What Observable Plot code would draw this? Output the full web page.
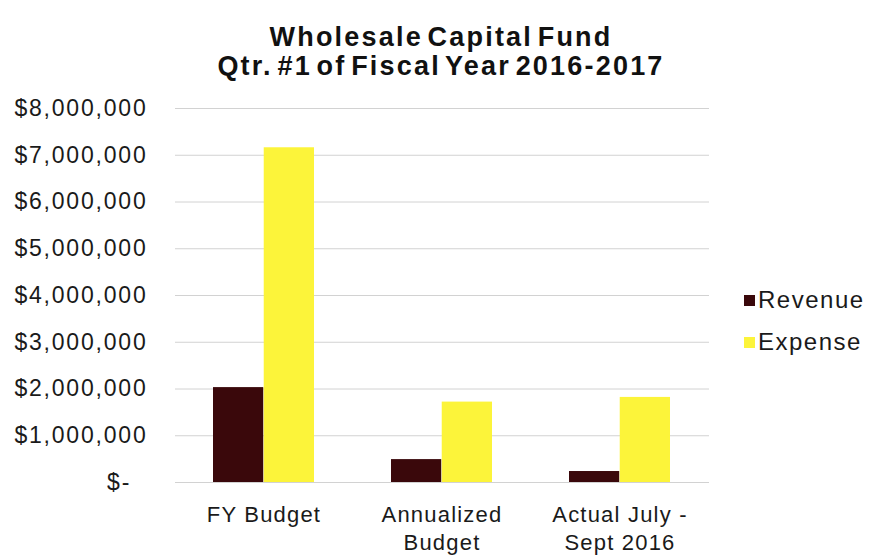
<!DOCTYPE html>
<html>
<head>
<meta charset="utf-8">
<script src="https://cdn.jsdelivr.net/npm/d3@7"></script>
<script src="https://cdn.jsdelivr.net/npm/@observablehq/plot@0.6"></script>
<style>
  html, body { margin: 0; padding: 0; background: #ffffff; }
  #chart { position: relative; width: 870px; height: 558px; font-family: "Liberation Sans", Arial, sans-serif; color: #1a1a1a; }
  #title { position: absolute; left: 0; top: 23px; width: 882px; text-align: center; font-weight: bold; font-size: 27px; line-height: 29px; letter-spacing: 2.2px; word-spacing: -5px; color: #111; }
  #plot { position: absolute; left: 0; top: 95px; }
  #plot g[aria-label="y-axis tick label"] text { letter-spacing: 1.8px; }
  #plot g[aria-label="x-axis tick label"] text { letter-spacing: 1.2px; }
  #legend { position: absolute; left: 744px; top: 279px; font-size: 24px; letter-spacing: 1.5px; }
  #legend .item { display: flex; align-items: center; height: 42px; }
  #legend .sw { width: 11px; height: 11px; margin-right: 3px; }
</style>
</head>
<body>
<div id="chart">
  <div id="title"></div>
  <div id="plot"></div>
  <div id="legend"></div>
</div>
<script>
// Chart title
const titleLines = ["Wholesale Capital Fund", "Qtr. #1 of Fiscal Year 2016-2017"];

// Categories along the x axis and their tick labels
const categories = ["FY Budget", "Annualized Budget", "Actual July - Sept 2016"];
const categoryLabels = ["FY Budget", "Annualized\nBudget", "Actual July -\nSept 2016"];

// Series and values (dollars)
const series = ["Revenue", "Expense"];
const revenue = [2030000, 490000, 235000];
const expense = [7160000, 1720000, 1820000];

// Y axis ticks and their labels
const yTicks = [0, 1000000, 2000000, 3000000, 4000000, 5000000, 6000000, 7000000, 8000000];
const yTickLabels = ["$-\u00a0\u00a0", "$1,000,000", "$2,000,000", "$3,000,000", "$4,000,000",
                     "$5,000,000", "$6,000,000", "$7,000,000", "$8,000,000"];

const seriesColors = ["#3a080b", "#fcf43a"];

const rows = categories.flatMap((c, i) => [
  {category: c, series: series[0], value: revenue[i]},
  {category: c, series: series[1], value: expense[i]}
]);

document.getElementById("title").innerHTML = titleLines.map(t => `<div>${t}</div>`).join("");

const width = 870, height = 463;
const marginLeft = 175, marginRight = 161, marginTop = 13, marginBottom = 76;
const paddingInner = 0.43, paddingOuter = 0.215;
// half of a category band: each series bar takes one half
const step = (width - marginLeft - marginRight) / (categories.length - paddingInner + 2 * paddingOuter);
const half = step * (1 - paddingInner) / 2;

const chart = Plot.plot({
  width, height, marginLeft, marginRight, marginTop, marginBottom,
  style: {fontFamily: "'Liberation Sans', Arial, sans-serif", color: "#1a1a1a", background: "transparent"},
  x: {domain: categories, paddingInner, paddingOuter, label: null},
  y: {domain: [0, 8000000], label: null},
  color: {domain: series, range: seriesColors},
  marks: [
    Plot.gridY(yTicks, {stroke: "#d2d2d2", strokeOpacity: 1, strokeWidth: 1}),
    Plot.barY(rows.filter(d => d.series === series[0]), {x: "category", y: "value", fill: "series", insetRight: half}),
    Plot.barY(rows.filter(d => d.series === series[1]), {x: "category", y: "value", fill: "series", insetLeft: half}),
    Plot.axisY(yTicks, {tickSize: 0, tickPadding: 28, fontSize: 23, label: null,
      tickFormat: d => yTickLabels[yTicks.indexOf(d)]}),
    Plot.axisX({tickSize: 0, tickPadding: 20, fontSize: 22, label: null, lineHeight: 1.25,
      tickFormat: d => categoryLabels[categories.indexOf(d)]})
  ]
});
document.getElementById("plot").appendChild(chart);

// Legend to the right of the plot
document.getElementById("legend").innerHTML = series.map((s, i) =>
  `<div class="item"><span class="sw" style="background:${seriesColors[i]}"></span><span>${s}</span></div>`
).join("");
</script>
</body>
</html>
